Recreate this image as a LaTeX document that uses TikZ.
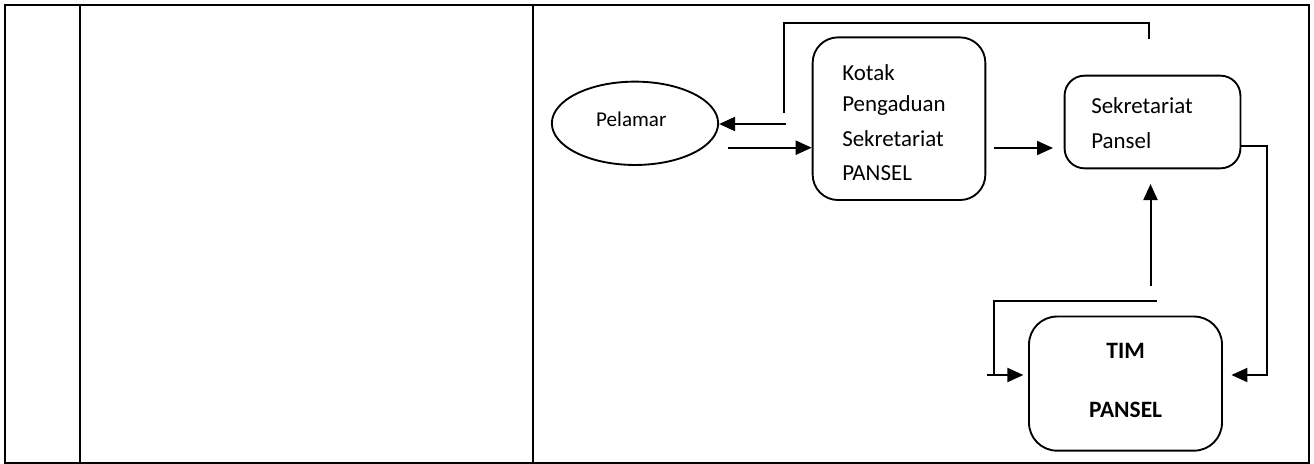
\documentclass[tikz,border=0pt]{standalone}
\usepackage{fontspec}
\setmainfont{Carlito}
\usetikzlibrary{arrows.meta,shapes.geometric}
\begin{document}
\begin{tikzpicture}[x=0.75pt,y=-0.75pt,
  frame/.style={line width=1.6pt},
  link/.style={line width=1.5pt},
  arr/.style={link,-{Triangle[length=12pt,width=10.5pt]}},
  box/.style={draw,line width=1.4pt,inner sep=0pt},
  lbl/.style={font=\fontsize{17.2}{20}\selectfont,inner sep=0pt,anchor=base west},
  small/.style={font=\fontsize{15.8}{18}\selectfont,inner sep=0pt,anchor=base},
  bold/.style={font=\fontsize{17.6}{20}\selectfont\bfseries,inner sep=0pt,anchor=base}]
\useasboundingbox (0,0) rectangle (1314,464);

% table frame with three columns
\draw[frame] (5,5) rectangle (1309,463);
\draw[frame] (79.7,5) -- (79.7,463);
\draw[frame] (533,5) -- (533,463);

% shapes
\node[box,ellipse,minimum width=124.7pt,minimum height=62.5pt] (pelamar) at (635,123.3) {};
\node[box,rounded corners=19pt,minimum width=129.5pt,minimum height=122pt] (kotak) at (899,118.7) {};
\node[box,rounded corners=15pt,minimum width=131.9pt,minimum height=69.5pt] (sek) at (1152.5,122) {};
\node[box,rounded corners=21pt,minimum width=144.75pt,minimum height=100.6pt] (tim) at (1125.5,383.6) {};

% labels
\node[small] (pl) at (631.3,126) {Pelamar};
\node[lbl] (k1) at (842,80) {Kotak};
\node[lbl] (k2) at (842,111.7) {Pengaduan};
\node[lbl] (k3) at (842,146.7) {Sekretariat};
\node[lbl] (k4) at (842,180) {PANSEL};
\node[lbl] (s1) at (1091,113.7) {Sekretariat};
\node[lbl] (s2) at (1091,148.7) {Pansel};
\node[bold] (t1) at (1125.6,358) {TIM};
\node[bold] (t2) at (1125.6,417.7) {PANSEL};

% connector end points
\coordinate (fbS) at (1149,38.5);
\coordinate (fbK) at (784,113);
\coordinate (backS) at (786,124);
\coordinate (inS) at (728,147.7);
\coordinate (ksS) at (994,148);
\coordinate (ksE) at (1053,148);
\coordinate (rS) at (1240.5,146.4);
\coordinate (rE) at (1231.4,375);
\coordinate (upS) at (1150.5,286);
\coordinate (upE) at (1150.5,184);
\coordinate (llS) at (1157,300.7);
\coordinate (llC) at (993.7,375);
\coordinate (liS) at (987,375);
\coordinate (liE) at (1023.4,375);

% connectors
\draw[link] (fbS) -- ++(0,-15.5) -| (fbK);
\draw[arr] (backS) -- (backS -| pelamar.east);
\draw[arr] (inS) -- (inS -| kotak.west);
\draw[arr] (ksS) -- (ksE);
\draw[arr] (rS) -- ++(26.3,0) |- (rE);
\draw[arr] (upS) -- (upE);
\draw[link] (llS) -| (llC);
\draw[arr] (liS) -- (liE);
\end{tikzpicture}
\end{document}
